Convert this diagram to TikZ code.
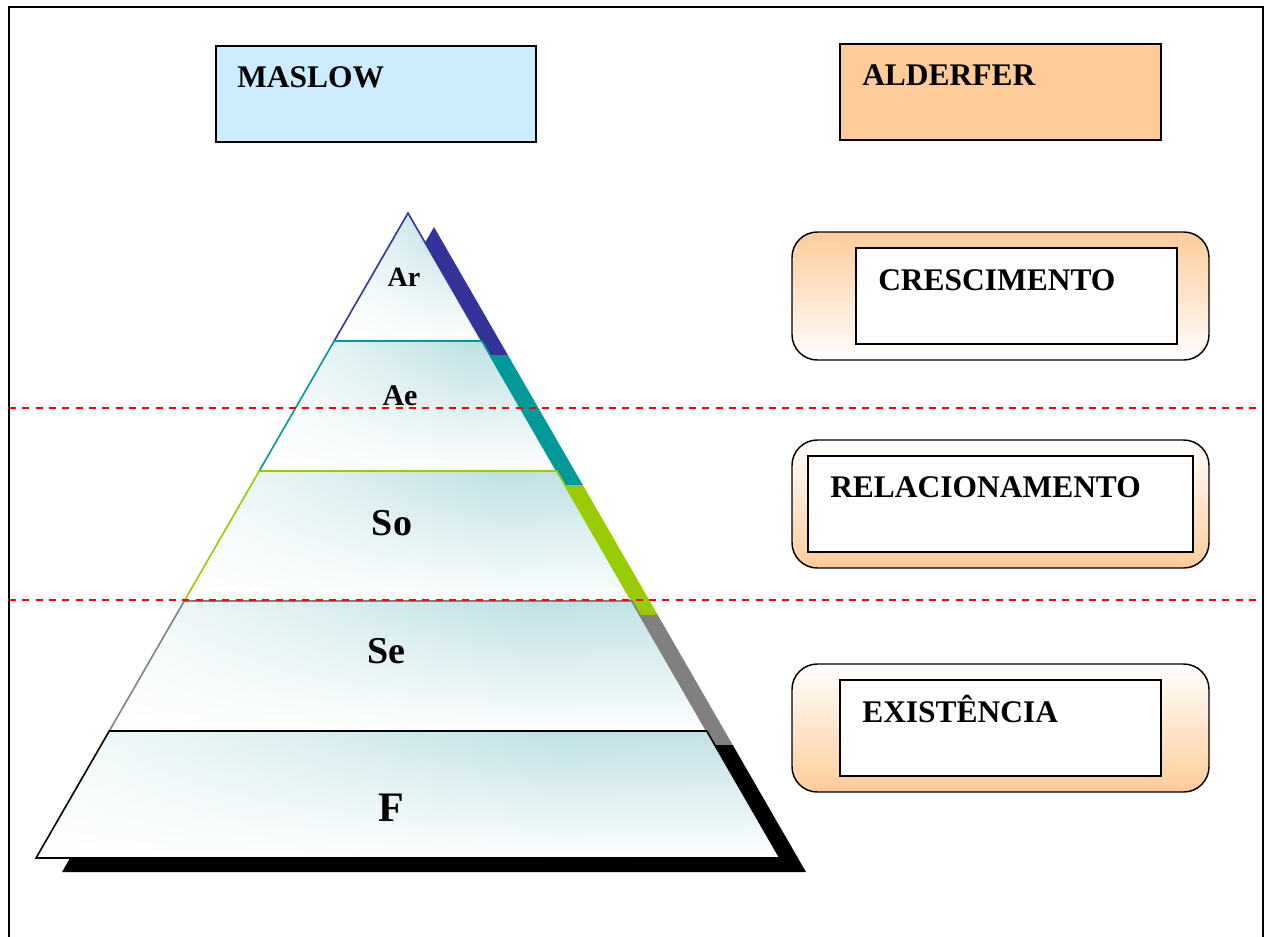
\documentclass[tikz,border=0pt]{standalone}
\usepackage{fontspec}
\setmainfont{Liberation Serif}
\usetikzlibrary{fadings}

\definecolor{maslowblue}{RGB}{204,236,255}
\definecolor{alderorange}{RGB}{255,204,153}
\definecolor{lvlteal}{RGB}{190,225,228}
\definecolor{lvlbase}{RGB}{246,251,251}
\definecolor{arcol}{RGB}{51,51,153}
\definecolor{aecol}{RGB}{0,153,153}
\definecolor{socol}{RGB}{153,204,0}
\definecolor{secol}{RGB}{128,128,128}
\definecolor{fcol}{RGB}{0,0,0}

% white overlay: clear at the top, opaque at the bottom
\tikzfading[name=fadeup, top color=transparent!100, bottom color=transparent!0]

% one level of the pyramid: #1 top y, #2 bottom y, #3 colour
% apex at (408,213), sides with slope 0.5767
\newcommand\pyrshadow[3]{%
  \pgfmathsetmacro\wt{0.5767*(#1-213)}%
  \pgfmathsetmacro\wb{0.5767*(#2-213)}%
  \fill[#3] ({434-\wt},{#1+14}) -- ({434+\wt},{#1+14}) -- ({434+\wb},{#2+14}) -- ({434-\wb},{#2+14}) -- cycle;
}
\newcommand\pyrlevel[3]{%
  \pgfmathsetmacro\wt{0.5767*(#1-213)}%
  \pgfmathsetmacro\wb{0.5767*(#2-213)}%
  \begin{scope}
    \clip ({408-\wt},#1) -- ({408+\wt},#1) -- ({408+\wb},#2) -- ({408-\wb},#2) -- cycle;
    \fill[lvlbase] ({408-\wb},#1) rectangle ({408+\wb},#2);
    \shade[left color=lvlbase, right color=lvlteal!85!white, middle color=lvlteal]
      ({408-\wb},#1) rectangle ({408+1.8*\wb},#2);
    \fill[white, path fading=fadeup] ({408-\wb},#1) rectangle ({408+\wb},{#2+4});
  \end{scope}
  \draw[#3, line width=1.2pt, line join=miter]
    ({408-\wt},#1) -- ({408+\wt},#1) -- ({408+\wb},#2) -- ({408-\wb},#2) -- cycle;
}

\tikzset{
  headbox/.style={draw=black, line width=1.2pt},
  headtext/.style={anchor=base west, inner sep=0pt, font=\fontsize{23.6}{28}\selectfont\bfseries},
  outerbox/.style={draw=black, line width=1.1pt, rounded corners=19},
  innerbox/.style={draw=black, line width=1.1pt, fill=white},
  lvltext/.style={anchor=base, inner sep=0pt},
  divider/.style={red, line width=1pt, dash pattern=on 5.2pt off 4.8pt},
}

\begin{document}
\begin{tikzpicture}[x=0.75pt, y=-0.75pt]
  \useasboundingbox (0,0) rectangle (1267,936);
  \fill[white] (0,0) rectangle (1267,936);

  % outer frame (runs past the lower edge)
  \draw[black, line width=2pt] (9,960) -- (9,7) -- (1263,7) -- (1263,960);

  % header boxes
  \fill[maslowblue] (216,46) rectangle (536,142);
  \draw[headbox] (216,46) rectangle (536,142);
  \node[headtext] (maslow) at (237,87) {MASLOW};

  \fill[alderorange] (840,44) rectangle (1161,140);
  \draw[headbox] (840,44) rectangle (1161,140);
  \node[headtext] (alderfer) at (862,85) {ALDERFER};

  % pyramid: coloured shadow bands first, then the levels
  \pyrshadow{213}{341}{arcol}
  \pyrshadow{341}{471}{aecol}
  \pyrshadow{471}{601}{socol}
  \pyrshadow{601}{731}{secol}
  \pyrshadow{731}{858}{fcol}

  \pyrlevel{213}{341}{arcol}
  \pyrlevel{341}{471}{aecol}
  \pyrlevel{471}{601}{socol}
  \pyrlevel{601}{731}{secol}
  \pyrlevel{731}{858}{fcol}

  \node[lvltext, font=\fontsize{21}{25}\selectfont\bfseries] (ar) at (404,286) {Ar};
  \node[lvltext, font=\fontsize{22.5}{27}\selectfont\bfseries] (ae) at (400,405) {Ae};
  \node[lvltext, font=\fontsize{28.5}{34}\selectfont\bfseries] (so) at (392,535) {So};
  \node[lvltext, font=\fontsize{28.5}{34}\selectfont\bfseries] (se) at (386.5,663) {Se};
  \node[lvltext, font=\fontsize{31.5}{38}\selectfont\bfseries] (f) at (391,821) {F};

  % Alderfer categories
  \path[outerbox, top color=alderorange, bottom color=white] (792,232) rectangle (1209,360);
  \draw[innerbox] (856,248) rectangle (1177,344);
  \node[headtext] (cresc) at (878,290) {CRESCIMENTO};

  \path[outerbox, top color=white, bottom color=alderorange] (792,440) rectangle (1209,568);
  \draw[innerbox] (808,456) rectangle (1193,552);
  \node[headtext] (relac) at (830,497) {RELACIONAMENTO};

  \path[outerbox, top color=white, bottom color=alderorange] (792,664) rectangle (1209,792);
  \draw[innerbox] (840,680) rectangle (1161,776);
  \node[headtext] (exist) at (862,722) {EXISTÊNCIA};

  % dividing lines between the groups
  \coordinate (upperW) at (9,408);
  \coordinate (upperE) at (1258,408);
  \coordinate (lowerW) at (9,600);
  \coordinate (lowerE) at (1258,600);
  \draw[divider] (upperW) -- (upperE);
  \draw[divider] (lowerW) -- (lowerE);
\end{tikzpicture}
\end{document}
